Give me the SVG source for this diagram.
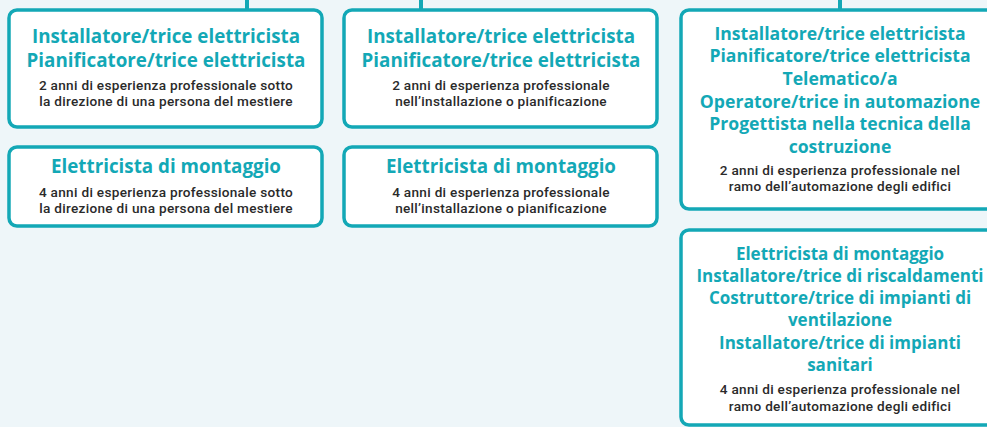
<svg xmlns="http://www.w3.org/2000/svg" width="987" height="427" viewBox="0 0 987 427">
<style>
.box{fill:#ffffff;stroke:#13a8b6;stroke-width:3.5}
.conn{stroke:#13a8b6;stroke-width:4;fill:none}
.t{font-family:"Open Sans","Liberation Sans",sans-serif;font-weight:700;font-size:18.8px;fill:#13a8b6;text-anchor:middle}
.t5{font-size:17.6px}
.t6{font-size:17px}
.b{font-family:Roboto,"Liberation Sans",sans-serif;font-weight:500;font-size:13.6px;letter-spacing:0.3px;fill:#2a2a2a;text-anchor:middle}
</style>
<rect x="0" y="0" width="987" height="427" fill="#eef6f9"/>
<g id="connectors">
<line class="conn" x1="247" y1="0" x2="247" y2="10"/>
<line class="conn" x1="421" y1="0" x2="421" y2="10"/>
<line class="conn" x1="840" y1="0" x2="840" y2="10"/>
</g>
<g id="n1">
<rect class="box" x="9" y="10" width="313" height="117" rx="8"/>
<text class="t" x="166" y="43">Installatore/trice elettricista</text>
<text class="t" x="166" y="67">Pianificatore/trice elettricista</text>
<text class="b" x="166" y="90">2 anni di esperienza professionale sotto</text>
<text class="b" x="166" y="106">la direzione di una persona del mestiere</text>
</g>
<g id="n2">
<rect class="box" x="9" y="147" width="313" height="79" rx="8"/>
<text class="t" x="166" y="173">Elettricista di montaggio</text>
<text class="b" x="166" y="197">4 anni di esperienza professionale sotto</text>
<text class="b" x="166" y="213">la direzione di una persona del mestiere</text>
</g>
<g id="n3">
<rect class="box" x="344" y="10" width="313" height="117" rx="8"/>
<text class="t" x="501" y="43">Installatore/trice elettricista</text>
<text class="t" x="501" y="67">Pianificatore/trice elettricista</text>
<text class="b" x="501" y="90">2 anni di esperienza professionale</text>
<text class="b" x="501" y="106">nell’installazione o pianificazione</text>
</g>
<g id="n4">
<rect class="box" x="344" y="147" width="313" height="79" rx="8"/>
<text class="t" x="501" y="173">Elettricista di montaggio</text>
<text class="b" x="501" y="197">4 anni di esperienza professionale</text>
<text class="b" x="501" y="213">nell’installazione o pianificazione</text>
</g>
<g id="n5">
<rect class="box" x="681" y="10" width="320" height="199" rx="8"/>
<text class="t t5" x="840" y="40">Installatore/trice elettricista</text>
<text class="t t5" x="840" y="62">Pianificatore/trice elettricista</text>
<text class="t t5" x="840" y="85">Telematico/a</text>
<text class="t t5" x="840" y="108">Operatore/trice in automazione</text>
<text class="t t5" x="840" y="130">Progettista nella tecnica della</text>
<text class="t t5" x="840" y="153">costruzione</text>
<text class="b" x="840" y="175">2 anni di esperienza professionale nel</text>
<text class="b" x="840" y="191">ramo dell’automazione degli edifici</text>
</g>
<g id="n6">
<rect class="box" x="681" y="230" width="320" height="195" rx="8"/>
<text class="t t6" x="840" y="260">Elettricista di montaggio</text>
<text class="t t6" x="840" y="282">Installatore/trice di riscaldamenti</text>
<text class="t t6" x="840" y="304">Costruttore/trice di impianti di</text>
<text class="t t6" x="840" y="326">ventilazione</text>
<text class="t t6" x="840" y="349">Installatore/trice di impianti</text>
<text class="t t6" x="840" y="371">sanitari</text>
<text class="b" x="840" y="394">4 anni di esperienza professionale nel</text>
<text class="b" x="840" y="411">ramo dell’automazione degli edifici</text>
</g>
</svg>
